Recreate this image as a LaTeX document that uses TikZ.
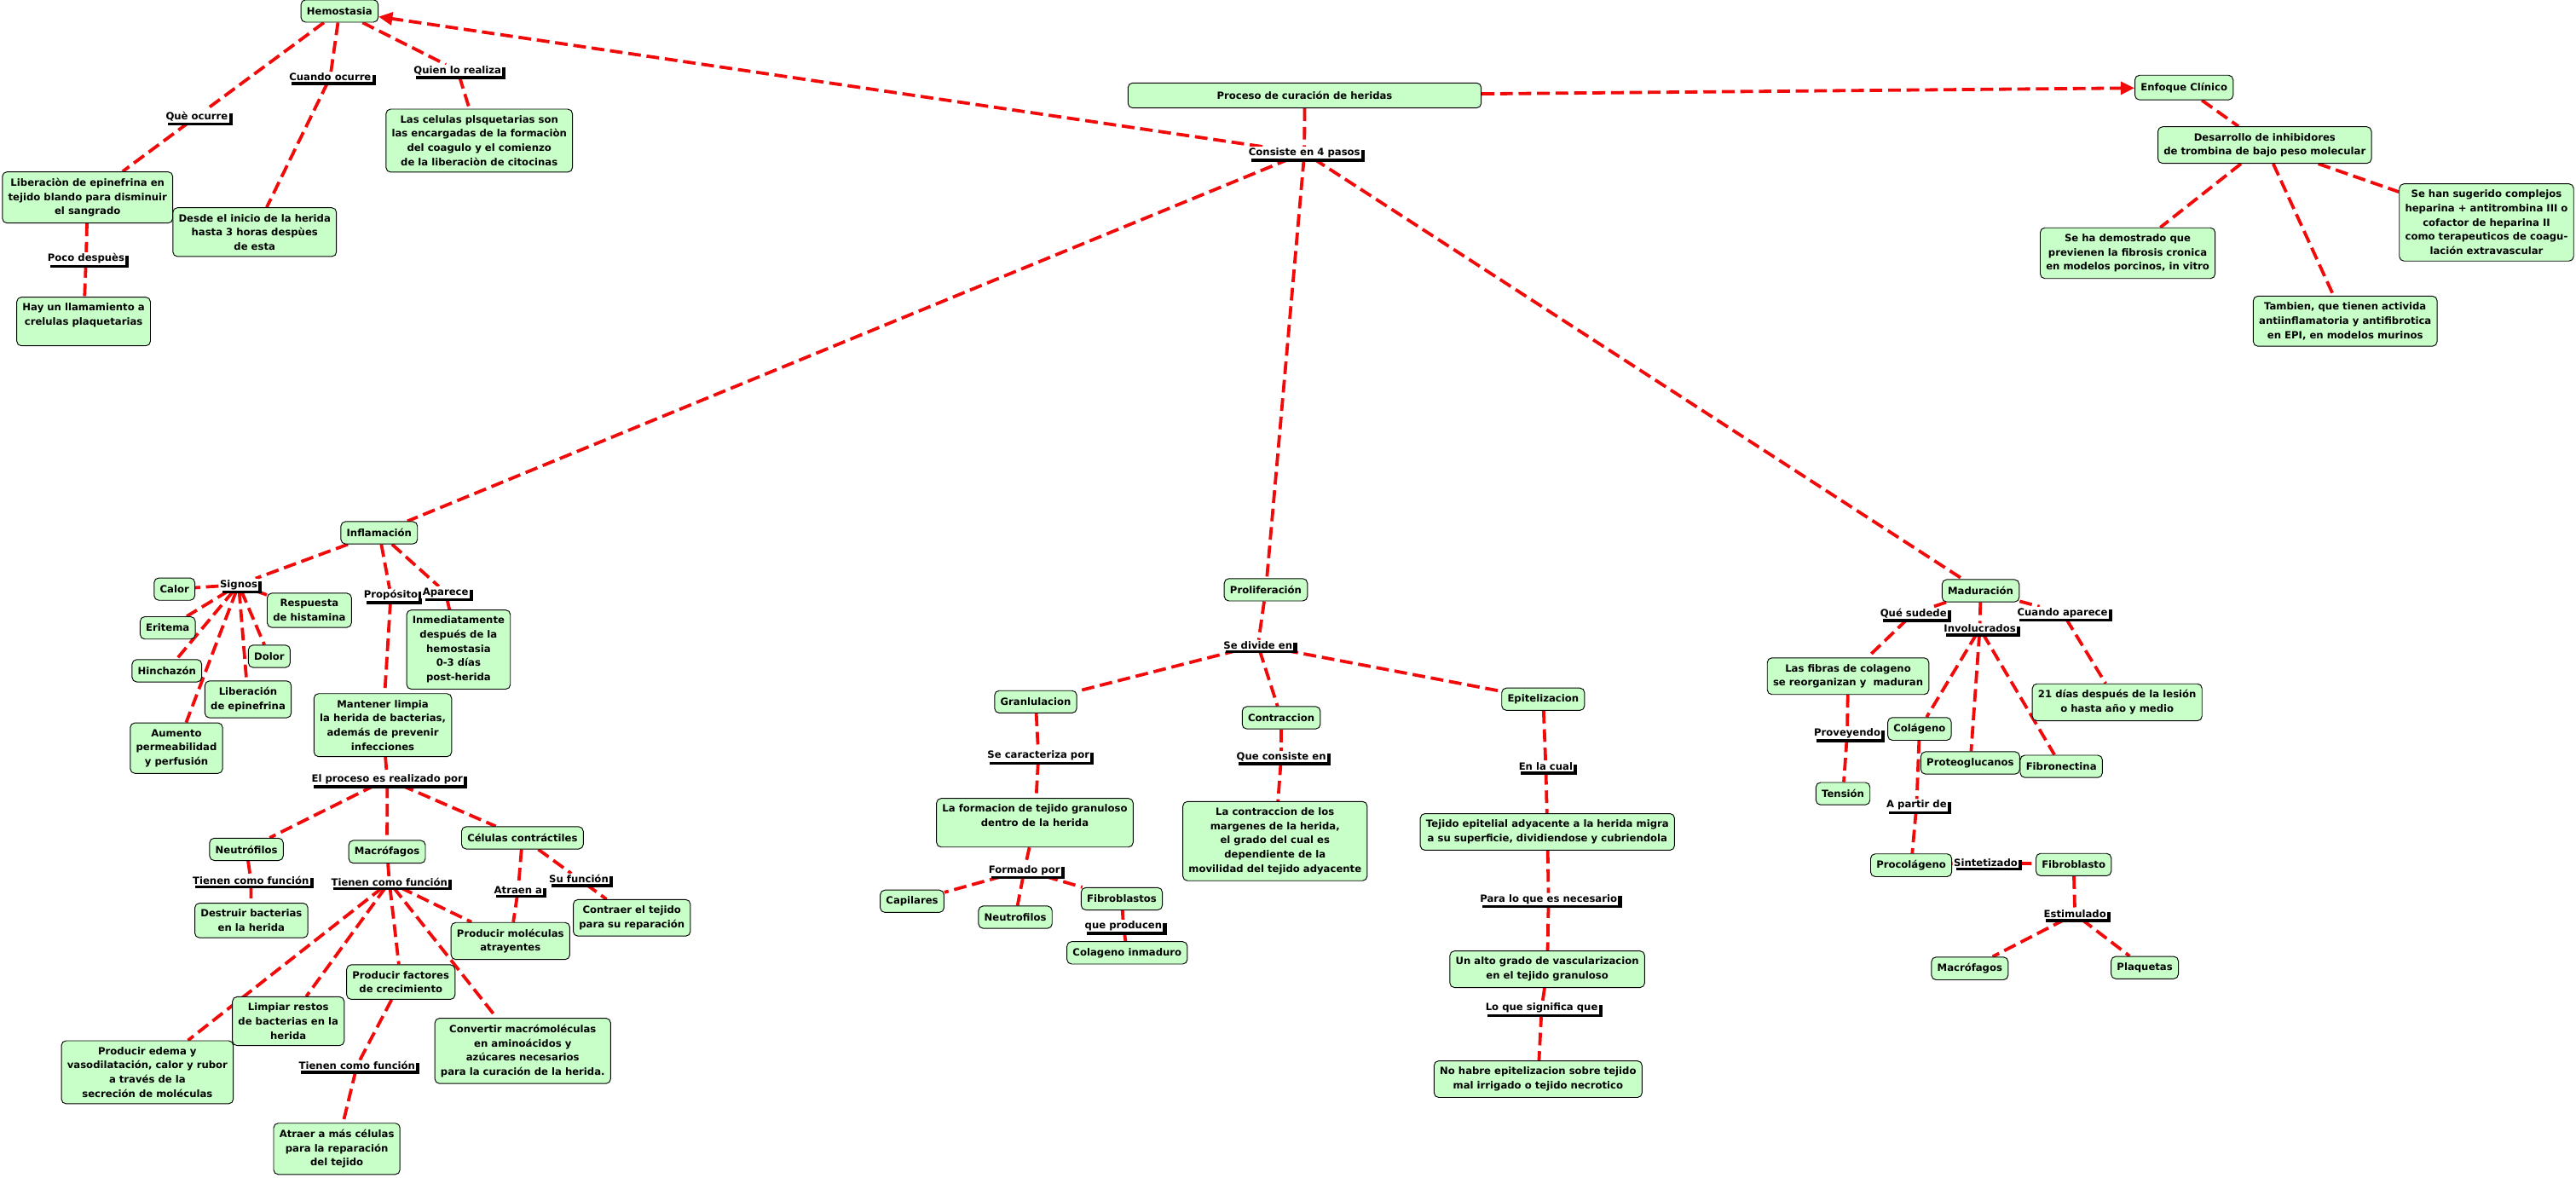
\documentclass[tikz,border=0pt]{standalone}
\usepackage{fontspec}
\setmainfont{DejaVu Sans}
\usetikzlibrary{arrows.meta, backgrounds, shadows}
\definecolor{cgreen}{HTML}{C8FFC8}
\definecolor{cred}{HTML}{F00A0A}
\tikzset{
  every picture/.style={font=\bfseries\fontsize{8.6}{12.3}\selectfont},
  box/.style={draw=black, fill=cgreen, rounded corners=4pt, align=center, line width=0.7pt, inner xsep=5pt, inner ysep=5.5pt, minimum height=0.68cm},
  link/.style={fill=white, inner sep=1pt, drop shadow={fill=black, opacity=1, shadow xshift=3pt, shadow yshift=-2.5pt}},
  conn/.style={draw=cred, line width=2.8pt, dash pattern=on 11pt off 5pt},
  arrow/.style={conn, -{Triangle[length=12pt, width=11pt]}},
}
\begin{document}
\begin{tikzpicture}[x=0.5mm, y=-0.5mm]
  \path[use as bounding box] (0,0) rectangle (1568,717);
  % hemostasia
  \node[box] (hemo) at (206.7,6.7) {Hemostasia};
  \node[box] (libepi) at (53.3,120.2) {Liberaciòn de epinefrina en\\tejido blando para disminuir\\el sangrado};
  \node[box] (desde) at (155,141.3) {Desde el inicio de la herida\\hasta 3 horas despùes\\de esta};
  \node[box] (celplaq) at (291.7,85.6) {Las celulas plsquetarias son\\las encargadas de la formaciòn\\del coagulo y el comienzo\\de la liberaciòn de citocinas};
  \node[box] (llamam) at (50.9,195.7) {Hay un llamamiento a\\crelulas plaquetarias\\\mbox{}};
  \node[link] (lqueocurre) at (119.8,70.9) {Què ocurre};
  \node[link] (lcuando) at (201,47) {Cuando ocurre};
  \node[link] (lquien) at (278.5,42.9) {Quien lo realiza};
  \node[link] (lpoco) at (52.4,157.4) {Poco despuès};
  % proceso + enfoque clinico
  \node[box, minimum width=10.75cm, minimum height=0.76cm] (proceso) at (794.1,58.1) {Proceso de curación de heridas};
  \node[link] (lconsiste) at (794,93) {Consiste en 4 pasos};
  \node[box, minimum height=0.75cm] (enfoque) at (1329.4,53.3) {Enfoque Clínico};
  \node[box] (desarr) at (1378.5,88.3) {Desarrollo de inhibidores\\de trombina de bajo peso molecular};
  \node[box] (demostr) at (1295.1,154.1) {Se ha demostrado que\\previenen la fibrosis cronica\\en modelos porcinos, in vitro};
  \node[box] (tambien) at (1427.5,195.5) {Tambien, que tienen activida\\antiinflamatoria y antifibrotica\\en EPI, en modelos murinos};
  \node[box] (sugerido) at (1513.5,135.4) {Se han sugerido complejos\\heparina + antitrombina III o\\cofactor de heparina II\\como terapeuticos de coagu-\\lación extravascular};
  % inflamacion
  \node[box] (inflam) at (230.8,324.3) {Inflamación};
  \node[link] (lsignos) at (145.3,355.9) {Signos};
  \node[box] (calor) at (106.2,358.6) {Calor};
  \node[box] (histam) at (188.3,371.5) {Respuesta\\de histamina};
  \node[box] (eritema) at (102.1,382.2) {Eritema};
  \node[box] (dolor) at (163.9,399.5) {Dolor};
  \node[box] (hinchazon) at (101.6,408.3) {Hinchazón};
  \node[box] (libepi2) at (151,425.7) {Liberación\\de epinefrina};
  \node[box] (aumento) at (107.4,455.4) {Aumento\\permeabilidad\\y perfusión};
  \node[link] (lproposito) at (237.9,362.3) {Propósito};
  \node[link] (laparece) at (271.2,360.6) {Aparece};
  \node[box] (inmed) at (279.1,395.4) {Inmediatamente\\después de la\\hemostasia\\0-3 días\\post-herida};
  \node[box] (mantener) at (233,441.4) {Mantener limpia\\la herida de bacterias,\\además de prevenir\\infecciones};
  \node[link] (lrealizado) at (235.7,474.3) {El proceso es realizado por};
  \node[box] (neutro) at (150,517) {Neutrófilos};
  \node[box] (macro) at (235.6,518.5) {Macrófagos};
  \node[box] (contract) at (318,510) {Células contráctiles};
  \node[link] (ltienenA) at (152.7,535.8) {Tienen como función};
  \node[box] (destruir) at (153,560.3) {Destruir bacterias\\en la herida};
  \node[link] (ltienenB) at (237,537) {Tienen como función};
  \node[link] (latraen) at (315.4,541.6) {Atraen a};
  \node[link] (lsufuncion) at (352.3,535) {Su función};
  \node[box] (contraer) at (384.6,558.7) {Contraer el tejido\\para su reparación};
  \node[box] (moleculas) at (310.7,572.8) {Producir moléculas\\atrayentes};
  \node[box] (factores) at (244,597.8) {Producir factores\\de crecimiento};
  \node[box] (limpiar) at (175.5,621.6) {Limpiar restos\\de bacterias en la\\herida};
  \node[box] (edema) at (89.7,652.7) {Producir edema y\\vasodilatación, calor y rubor\\a través de la\\secreción de moléculas};
  \node[box] (convertir) at (318.2,639.7) {Convertir macrómoléculas\\en aminoácidos y\\azúcares necesarios\\para la curación de la herida.};
  \node[link] (ltienenC) at (217.3,648.6) {Tienen como función};
  \node[box] (atraer) at (205,699.3) {Atraer a más células\\para la reparación\\del tejido};
  % proliferacion
  \node[box] (prolif) at (770.5,359) {Proliferación};
  \node[link] (ldivide) at (765.7,392.7) {Se divide en};
  \node[box] (granul) at (630.4,427.2) {Granlulacion};
  \node[box] (contracc) at (779.9,436.9) {Contraccion};
  \node[box] (epitel) at (939.3,425.6) {Epitelizacion};
  \node[link] (lcaract) at (632.1,460.1) {Se caracteriza por};
  \node[link] (lconsisteen) at (779.9,460.5) {Que consiste en};
  \node[link] (lencual) at (940.9,466.7) {En la cual};
  \node[box] (formacion) at (629.9,500.8) {La formacion de tejido granuloso\\dentro de la herida\\\mbox{}};
  \node[box] (contrtext) at (776.1,512) {La contraccion de los\\margenes de la herida,\\el grado del cual es\\dependiente de la\\movilidad del tejido adyacente};
  \node[box] (tejepi) at (941.9,506.4) {Tejido epitelial adyacente a la herida migra\\a su superficie, dividiendose y cubriendola};
  \node[link] (lformado) at (623.5,529.7) {Formado por};
  \node[box] (capilares) at (555.2,548.6) {Capilares};
  \node[box] (neutro2) at (618,558.3) {Neutrofilos};
  \node[box] (fibrob) at (682.8,547.1) {Fibroblastos};
  \node[link] (lproducen) at (683.8,563.6) {que producen};
  \node[box] (colinm) at (686.1,580) {Colageno inmaduro};
  \node[link] (lparalo) at (942.6,547.3) {Para lo que es necesario};
  \node[box] (vascular) at (941.8,590) {Un alto grado de vascularizacion\\en el tejido granuloso};
  \node[link] (lsignifica) at (938.4,613.6) {Lo que significa que};
  \node[box] (nohabre) at (936.2,656.9) {No habre epitelizacion sobre tejido\\mal irrigado o tejido necrotico};
  % maduracion
  \node[box] (madur) at (1205.6,359.6) {Maduración};
  \node[link] (lsudede) at (1164.7,373.3) {Qué sudede};
  \node[link] (lcuandoap) at (1255.4,373) {Cuando aparece};
  \node[link] (linvol) at (1205.1,382.6) {Involucrados};
  \node[box] (fibras) at (1124.9,411.6) {Las fibras de colageno\\se reorganizan y\ \ maduran};
  \node[box] (dias) at (1288.7,427.5) {21 días después de la lesión\\o hasta año y medio};
  \node[box] (colag) at (1168.4,443.7) {Colágeno};
  \node[link] (lproveyendo) at (1124.4,446.3) {Proveyendo};
  \node[box] (proteo) at (1199.3,464.4) {Proteoglucanos};
  \node[box] (fibron) at (1254.7,466.5) {Fibronectina};
  \node[box] (tension) at (1121.8,483.1) {Tensión};
  \node[link] (lapartir) at (1166.6,490.1) {A partir de};
  \node[box] (procol) at (1163.3,526.7) {Procolágeno};
  \node[link] (lsintet) at (1208.7,525) {Sintetizado};
  \node[box] (fibrob2) at (1262.2,526.3) {Fibroblasto};
  \node[link] (lestim) at (1263,556.5) {Estimulado};
  \node[box] (macro2) at (1199,589.5) {Macrófagos};
  \node[box] (plaq) at (1305.5,589) {Plaquetas};
  % connectors
  \begin{scope}[on background layer]
    \fill[white] (0,0) rectangle (1568,717);
    \foreach \a/\b in {hemo/lqueocurre, lqueocurre/libepi, hemo/lcuando, lcuando/desde, hemo/lquien, lquien/celplaq, libepi/lpoco, lpoco/llamam,
      proceso/lconsiste, enfoque/desarr, desarr/demostr, desarr/tambien, desarr/sugerido, lconsiste/inflam, lconsiste/prolif, lconsiste/madur,
      inflam/lsignos, lsignos/calor, lsignos/histam, lsignos/eritema, lsignos/hinchazon, lsignos/dolor, lsignos/libepi2, lsignos/aumento,
      inflam/lproposito, lproposito/mantener, inflam/laparece, laparece/inmed, mantener/lrealizado, lrealizado/neutro, lrealizado/macro, lrealizado/contract,
      neutro/ltienenA, ltienenA/destruir, macro/ltienenB, ltienenB/moleculas, ltienenB/factores, ltienenB/limpiar, ltienenB/edema, ltienenB/convertir,
      contract/latraen, latraen/moleculas, contract/lsufuncion, lsufuncion/contraer, factores/ltienenC, ltienenC/atraer,
      prolif/ldivide, ldivide/granul, ldivide/contracc, ldivide/epitel, granul/lcaract, lcaract/formacion, contracc/lconsisteen, lconsisteen/contrtext,
      epitel/lencual, lencual/tejepi, formacion/lformado, lformado/capilares, lformado/neutro2, lformado/fibrob, fibrob/lproducen, lproducen/colinm,
      tejepi/lparalo, lparalo/vascular, vascular/lsignifica, lsignifica/nohabre,
      madur/lsudede, lsudede/fibras, madur/linvol, linvol/colag, linvol/proteo, linvol/fibron, madur/lcuandoap, lcuandoap/dias,
      fibras/lproveyendo, lproveyendo/tension, colag/lapartir, lapartir/procol, procol/lsintet, lsintet/fibrob2, fibrob2/lestim, lestim/macro2, lestim/plaq}
      \draw[conn] (\a) -- (\b);
    \draw[arrow] (lconsiste) -- (hemo);
    \draw[arrow] (proceso) -- (enfoque);
  \end{scope}
\end{tikzpicture}
\end{document}
